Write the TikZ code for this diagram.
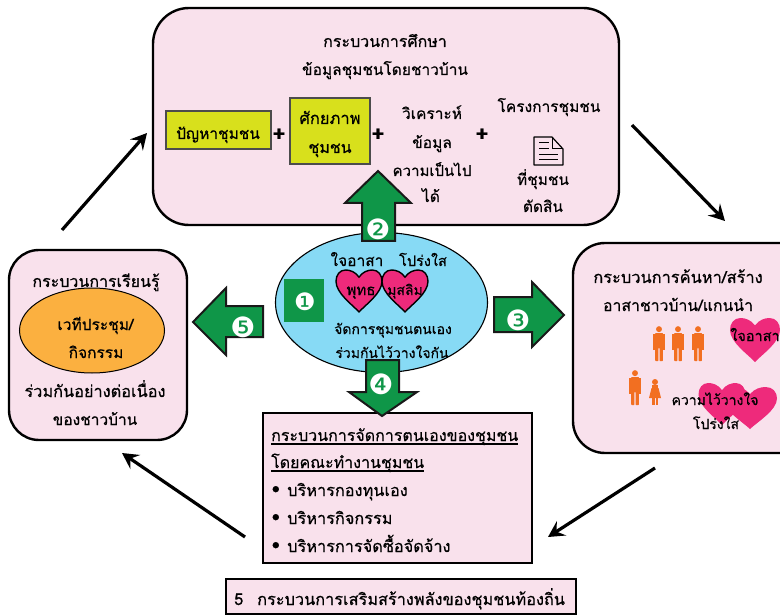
\documentclass[tikz,border=0pt]{standalone}
\usepackage{fontspec}
\usetikzlibrary{arrows.meta,shapes.geometric}
\setmainfont[Script=Thai,FakeBold=0.5]{Loma}
\newfontfamily\dingfont{DejaVu Sans}
\definecolor{pinkbg}{HTML}{F9E1EC}
\definecolor{limebox}{HTML}{D8E01C}
\definecolor{arrowgreen}{HTML}{0F9648}
\definecolor{skyfill}{HTML}{87DAF5}
\definecolor{orangefill}{HTML}{FBB040}
\definecolor{heartpink}{HTML}{EE2A7B}
\definecolor{peopleorange}{HTML}{F26F21}
\newcommand\ulx[1]{\leavevmode\setbox0\hbox{#1}\rlap{\rule[-3.6pt]{\wd0}{1.5pt}}\box0}
\newcommand\heartshape[5]{\path[#5,shift={(#1,#2)},xscale=#3,yscale=#4] (0,0.17) .. controls (-0.08,0.04) and (-0.2,0) .. (-0.29,0) .. controls (-0.42,0) and (-0.5,0.12) .. (-0.5,0.27) .. controls (-0.5,0.55) and (-0.15,0.82) .. (0,1) .. controls (0.15,0.82) and (0.5,0.55) .. (0.5,0.27) .. controls (0.5,0.12) and (0.42,0) .. (0.29,0) .. controls (0.2,0) and (0.08,0.04) .. (0,0.17) -- cycle;}
\newcommand\manshape[3]{\begin{scope}[shift={(#1,#2)},scale=#3,peopleorange]
\fill (0,0.09) circle (0.085);
\fill[rounded corners=0.6pt] (-0.11,0.2) -- (0.11,0.2) -- (0.11,1) -- (0.015,1) -- (0.015,0.62) -- (-0.015,0.62) -- (-0.015,1) -- (-0.11,1) -- cycle;
\fill (-0.175,0.22) rectangle (-0.125,0.68);
\fill (0.125,0.22) rectangle (0.175,0.68);
\end{scope}}
\tikzset{
 sz/.style={font=\fontsize{#1}{18}\selectfont},
 base/.style={sz=15.5,inner sep=0pt,text=black},
 t/.style={base,anchor=base,yshift=-5pt},
 pinkbox/.style={draw=black,line width=2.4pt,fill=pinkbg,inner sep=0pt},
 limerect/.style={draw=black!70,line width=1.3pt,fill=limebox,inner sep=0pt},
 greenarrow/.style={draw=black!90,line width=2pt,fill=arrowgreen,line join=miter},
 num/.style={font=\dingfont\fontsize{28}{28}\selectfont,text=white,inner sep=0pt},
 plussign/.style={font=\bfseries\fontsize{22}{22}\selectfont,inner sep=0pt,text=black},
 flow/.style={line width=3.2pt,draw=black,-{Stealth[length=16pt,width=17pt,inset=6pt]}},
 heartline/.style={draw=black,line width=1.4pt,fill=heartpink},
 heartflat/.style={fill=heartpink},
 bul/.style={base,anchor=base west,yshift=-5pt}
}
\begin{document}
\begin{tikzpicture}[x=1pt,y=-1pt]
\useasboundingbox (0,0) rectangle (780,615);
% main boxes
\node[pinkbox,rounded corners=36pt,minimum width=466pt,minimum height=217pt] (study) at (386,116.5) {};
\node[pinkbox,rounded corners=30pt,minimum width=178pt,minimum height=190pt] (learn) at (98,345) {};
\node[pinkbox,rounded corners=32pt,minimum width=240pt,minimum height=210pt] (search) at (693,348) {};
\node[pinkbox,rounded corners=0pt,line width=2pt,minimum width=269pt,minimum height=150pt] (manage) at (397.5,488) {};
\node[pinkbox,rounded corners=0pt,line width=2pt,minimum width=350pt,minimum height=35pt] (empower) at (401,596) {};
% study box content
\node[t,sz=16] (s1) at (385,42) {กระบวนการศึกษา};
\node[t] (s2) at (385,70) {ข้อมูลชุมชนโดยชาวบ้าน};
\node[limerect,minimum width=105pt,minimum height=38pt] (prob) at (218.5,130) {};
\node[t] (probt) at (218,134) {ปัญหาชุมชน};
\node[limerect,minimum width=80pt,minimum height=66pt] (pot) at (330,131) {};
\node[t,sz=16.5] (pot1) at (330,119) {ศักยภาพ};
\node[t,sz=16] (pot2) at (330,148) {ชุมชน};
\node[plussign] (p1) at (279,135) {+};
\node[plussign] (p2) at (378,135) {+};
\node[plussign] (p3) at (482,135) {+};
\node[t] (a1) at (432,114) {วิเคราะห์};
\node[t] (a2) at (432,143) {ข้อมูล};
\node[t,sz=15] (a3) at (432,171) {ความเป็นไป};
\node[t] (a4) at (431,197) {ได้};
\node[t] (c1) at (549,107) {โครงการชุมชน};
\node[t] (c2) at (543,180) {ที่ชุมชน};
\node[t] (c3) at (543,207) {ตัดสิน};
\draw[line width=1.2pt,line join=round] (534,137) -- (552,137) -- (563,149) -- (563,165) -- (534,165) -- cycle;
\draw[line width=1pt] (552,137) -- (552,149) -- (563,149);
\draw[line width=1pt] (539,143) -- (549,143) (539,149) -- (549,149) (539,155) -- (558,155) (539,160) -- (558,160);
% centre ellipse
\node[draw=black,line width=1.1pt,fill=skyfill,ellipse,inner sep=0pt,minimum width=212pt,minimum height=140pt] (core) at (381.5,302.5) {};
\fill[arrowgreen] (284,279) rectangle (324,322);
\node[num,font=\dingfont\fontsize{24}{24}\selectfont] (n1) at (305,302) {❶};
\node[t] (c4) at (357,261) {ใจอาสา};
\node[t,sz=14.5] (c5) at (423,261) {โปร่งใส};
\heartshape{359}{270}{46}{42}{heartline}
\heartshape{405}{270}{46}{42}{heartline}
\node[t,sz=15] (h1) at (361,290) {พุทธ};
\node[t,sz=14] (h2) at (405,290) {มุสลิม};
\node[t,sz=14] (c6) at (393,329) {จัดการชุมชนตนเอง};
\node[t,sz=14] (c7) at (392,353) {ร่วมกันไว้วางใจกัน};
% green arrows
\draw[greenarrow] (378,171) -- (411,203) -- (395,203) -- (395,241) -- (362,241) -- (362,203) -- (345,203) -- cycle;
\node[num] (n2) at (378,229) {❷};
\draw[greenarrow] (564,315) -- (532,282) -- (532,297) -- (494,297) -- (494,332) -- (532,332) -- (532,347) -- cycle;
\node[num] (n3) at (518,320) {❸};
\draw[greenarrow] (382,416) -- (349,392) -- (366,392) -- (366,360) -- (399,360) -- (399,392) -- (417,392) -- cycle;
\node[num] (n4) at (381,384) {❹};
\draw[greenarrow] (193,322) -- (226,288) -- (226,306) -- (263,306) -- (263,337) -- (226,337) -- (226,355) -- cycle;
\node[num] (n5) at (243,327) {❺};
% learning box
\node[t,sz=16] (l1) at (96,282) {กระบวนการเรียนรู้};
\node[draw=black,line width=1pt,fill=orangefill,ellipse,inner sep=0pt,minimum width=145pt,minimum height=85pt] (forum) at (92,330.5) {};
\node[t] (l2) at (95.5,325) {เวทีประชุม/};
\node[t] (l3) at (96,353) {กิจกรรม};
\node[t,sz=16.3] (l4) at (95,392) {ร่วมกันอย่างต่อเนื่อง};
\node[t] (l5) at (95,420) {ของชาวบ้าน};
% search box
\node[t,sz=16.4] (r1) at (678,278) {กระบวนการค้นหา/สร้าง};
\node[t,sz=15.8] (r2) at (678,306) {อาสาชาวบ้าน/แกนนำ};
\manshape{659}{326}{35}
\manshape{678}{326}{35}
\manshape{698}{326}{35}
\manshape{635}{370}{35}
\begin{scope}[peopleorange]
\fill (655,382) circle (3);
\fill (652,385) rectangle (658,392);
\fill (651.5,388) -- (658.5,388) -- (661,398) -- (649,398) -- cycle;
\fill (652,398) rectangle (654.5,405);
\fill (655.5,398) rectangle (658,405);
\end{scope}
\heartshape{755}{318}{50}{44}{heartflat}
\heartshape{722}{383}{47}{42}{heartflat}
\heartshape{750}{387}{54}{42}{heartflat}
\node[t,sz=14.5] (r3) at (755,336) {ใจอาสา};
\node[t,sz=14] (r4) at (715,400) {ความไว้วางใจ};
\node[t,sz=14] (r5) at (716,424) {โปร่งใส};
% manage box
\node[bul,sz=16] (m1) at (271,436) {\ulx{กระบวนการจัดการตนเองของชุมชน}};
\node[bul,sz=16] (m2) at (271,463) {\ulx{โดยคณะทำงานชุมชน}};
\node[bul,sz=18] (b1) at (271.5,490) {•};
\node[bul,sz=18] (b2) at (271.5,518) {•};
\node[bul,sz=18] (b3) at (271.5,546) {•};
\node[bul,sz=16.3] (m3) at (287,491) {บริหารกองทุนเอง};
\node[bul,sz=16.3] (m4) at (287,519) {บริหารกิจกรรม};
\node[bul,sz=16.3] (m5) at (287,547) {บริหารการจัดซื้อจัดจ้าง};
\node[bul,sz=16.3] (e1) at (234,600) {5\hspace{14pt}กระบวนการเสริมสร้างพลังของชุมชนท้องถิ่น};
% flow arrows
\coordinate (f1a) at (62,230); \coordinate (f1b) at (147,133);
\coordinate (f2a) at (632,125); \coordinate (f2b) at (725,221);
\coordinate (f3a) at (655,468); \coordinate (f3b) at (548,537);
\coordinate (f4a) at (245,537); \coordinate (f4b) at (122,453);
\draw[flow] (f1a) -- (f1b);
\draw[flow] (f2a) -- (f2b);
\draw[flow] (f3a) -- (f3b);
\draw[flow] (f4a) -- (f4b);
\end{tikzpicture}
\end{document}
